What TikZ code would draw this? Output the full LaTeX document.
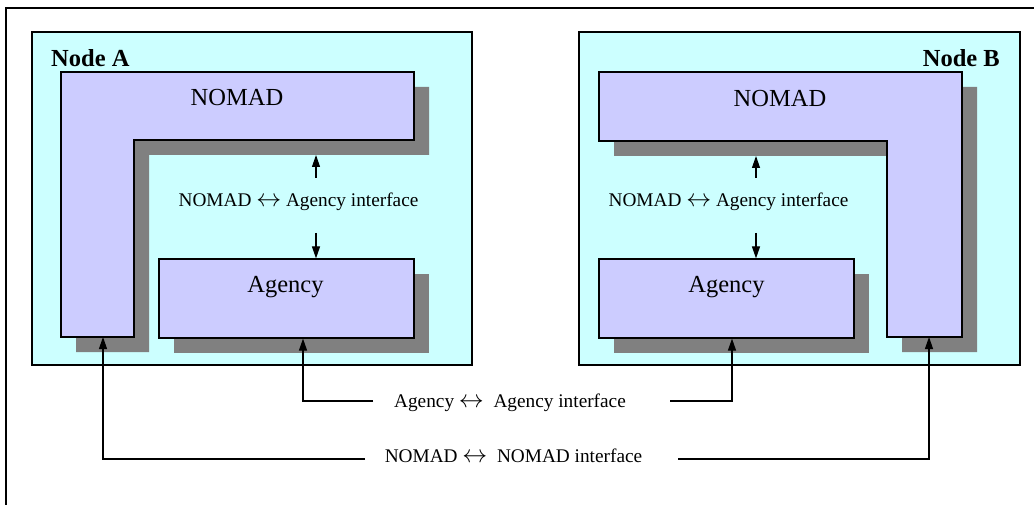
\documentclass[tikz,border=0pt]{standalone}
\usepackage{fontspec}
\setmainfont{Liberation Serif}
\usetikzlibrary{calc,arrows.meta,shadows}
\definecolor{nodebg}{HTML}{CCFFFF}
\definecolor{partbg}{HTML}{CCCCFF}
\definecolor{shade}{HTML}{808080}
\newcommand{\lrarr}{\scalebox{1.2}{$\leftrightarrow$}}

\begin{document}
\begin{tikzpicture}[x = 1pt, y = -1pt,
    part/.style = {draw, line width = 1.2pt, fill = partbg,
        drop shadow = {shadow xshift = 15pt, shadow yshift = -15pt, fill = shade, opacity = 1}},
    big/.style = {inner sep = 0pt, anchor = base, font = \fontsize{24.5}{28}\selectfont},
    small/.style = {inner sep = 0pt, anchor = base, font = \fontsize{19.3}{22}\selectfont},
    arr/.style = {line width = 1.2pt, -{Triangle[length = 12pt, width = 8pt]}}]
    \useasboundingbox(0,0)rectangle(1034,505);
    % frame
    \path[draw, line width = 1.2pt](6,505)--(6,8)--(1034,8);
    % nodes
    \path[draw, line width = 1.2pt, fill = nodebg](32,32)rectangle(472,365);
    \path[draw, line width = 1.2pt, fill = nodebg](579,32)rectangle(1020,365);
    \node[big, anchor = base west, font = \fontsize{24.5}{28}\selectfont\bfseries](labA)at(51,67){Node A};
    \node[big, anchor = base east, font = \fontsize{24.5}{28}\selectfont\bfseries](labB)at(1000,67){Node B};
    % NOMAD
    \path[part](61,72)--(414,72)--(414,140)--(134,140)--(134,337)--(61,337)--cycle;
    \path[part](599,72)--(962,72)--(962,337)--(887,337)--(887,141)--(599,141)--cycle;
    \node[big](nomtxtA)at(237,106){NOMAD};
    \node[big](nomtxtB)at(780,107){NOMAD};
    \coordinate(nomA)at(103,337);
    \coordinate(nomB)at(929,337);
    % Agency
    \node[part, minimum width = 255, minimum height = 79](agA)at(286.5,298.5){};
    \node[part, minimum width = 255, minimum height = 79](agB)at(726.5,298.5){};
    \node[big](agtxtA)at(285.5,292){Agency};
    \node[big](agtxtB)at(726.5,292){Agency};
    % NOMAD <-> Agency
    \node[small](ifA)at(298.5,207){NOMAD \lrarr{} Agency interface};
    \node[small](ifB)at(728.5,207){NOMAD \lrarr{} Agency interface};
    \coordinate(upA)at(316,155);
    \coordinate(upB)at(756,156);
    \path[draw, arr]($(upA)+(0,23)$)to(upA);
    \path[draw, arr]($(upB)+(0,22)$)to(upB);
    \path[draw, arr]($(upA)+(0,78)$)to(agA.north -| upA);
    \path[draw, arr]($(upB)+(0,77)$)to(agB.north -| upB);
    % Agency <-> Agency
    \node[small](aaif)at(510,407){Agency \lrarr~~Agency interface};
    \coordinate(aaL)at(373,401);
    \coordinate(aaR)at(670,401);
    \path[draw, arr](aaL)-|($(agA.south)+(16.5,0)$);
    \path[draw, arr](aaR)-|($(agB.south)+(5.5,0)$);
    % NOMAD <-> NOMAD
    \node[small](nnif)at(513.5,462){NOMAD \lrarr~~NOMAD interface};
    \coordinate(nnL)at(365,459);
    \coordinate(nnR)at(678,459);
    \path[draw, arr](nnL)-|(nomA);
    \path[draw, arr](nnR)-|(nomB);
\end{tikzpicture}
\end{document}
